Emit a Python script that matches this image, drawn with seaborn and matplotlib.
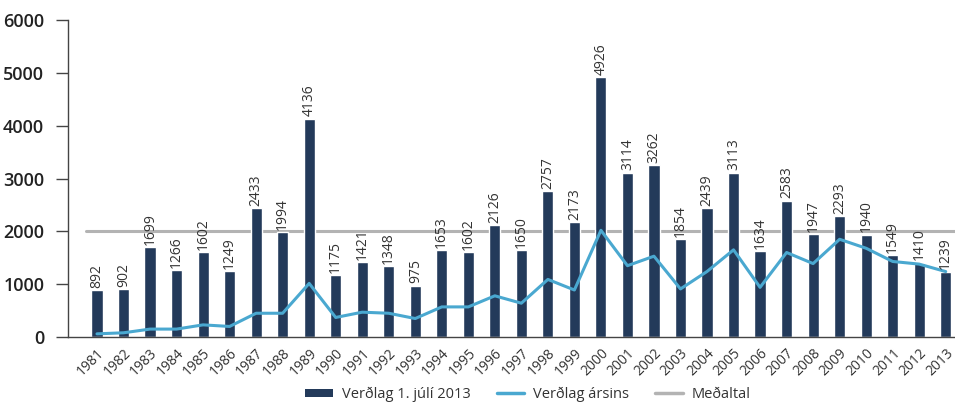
import numpy as np
import pandas as pd
import matplotlib
matplotlib.use("Agg")
import matplotlib.pyplot as plt
import seaborn as sns
from matplotlib.lines import Line2D
from matplotlib.patches import Patch

years = [str(y) for y in range(1981, 2014)]
verdlag_2013 = [892, 902, 1699, 1266, 1602, 1249, 2433, 1994, 4136, 1175, 1421, 1348,
                975, 1653, 1602, 2126, 1650, 2757, 2173, 4926, 3114, 3262, 1854, 2439,
                3113, 1634, 2583, 1947, 2293, 1940, 1549, 1410, 1239]
verdlag_arsins = [60, 80, 150, 150, 230, 200, 450, 450, 1015, 370, 470, 450,
                  350, 570, 570, 780, 640, 1090, 890, 2020, 1350, 1530, 910, 1240,
                  1650, 940, 1600, 1390, 1850, 1680, 1430, 1380, 1239]
medaltal = 2000
legend_labels = ["Verðlag 1. júlí 2013", "Verðlag ársins", "Meðaltal"]

bar_color = "#233a5a"
line_color = "#4aa8d0"
avg_color = "#b3b3b3"
text_color = "#333333"

sns.set_style("white")
plt.rcParams['font.family'] = ['Open Sans', 'DejaVu Sans']

df = pd.DataFrame({"year": years, "v2013": verdlag_2013, "var": verdlag_arsins})

fig = plt.figure(figsize=(9.55, 4.09), dpi=100)
ax = fig.add_axes([0.071, 0.176, 0.929, 0.775])

sns.barplot(data=df, x="year", y="v2013", color=bar_color, width=0.42,
            saturation=1, ax=ax, zorder=2)
ax.plot([-0.4, 33], [medaltal, medaltal], color=avg_color, lw=2.2, zorder=1)
sns.lineplot(x=np.arange(len(years)), y=df["var"], color=line_color, lw=2.2,
             ax=ax, zorder=3)

for i, v in enumerate(verdlag_2013):
    ax.text(i, v + 40, str(v), rotation=90, ha="center", va="bottom",
            fontsize=10, color=text_color)

ax.set_xlim(-1.1, 32.35)
ax.set_ylim(0, 6000)
ax.set_yticks(range(0, 6001, 1000))
ax.set_xlabel("")
ax.set_ylabel("")
for s in ["top", "right"]:
    ax.spines[s].set_visible(False)
for s in ["left", "bottom"]:
    ax.spines[s].set_color("#444444")
    ax.spines[s].set_linewidth(1.0)
ax.tick_params(axis="y", left=True, length=9, width=1, color="#444444",
               labelsize=13, labelcolor="#222222", pad=8)
for lab in ax.get_yticklabels():
    lab.set_fontweight("semibold")
ax.tick_params(axis="x", bottom=False, labelsize=10, labelcolor=text_color, pad=3)
plt.setp(ax.get_xticklabels(), rotation=45, ha="right", rotation_mode="anchor")

handles = [Patch(facecolor=bar_color, edgecolor="none"),
           Line2D([0], [0], color=line_color, lw=2.5),
           Line2D([0], [0], color=avg_color, lw=2.5)]
fig.legend(handles, legend_labels, loc="lower center", bbox_to_anchor=(0.553, -0.015),
           ncol=3, frameon=False, fontsize=10.5, handlelength=1.9, columnspacing=1.8,
           handletextpad=0.6, handleheight=0.45, labelcolor=text_color)

fig.savefig("out.png", dpi=100)
